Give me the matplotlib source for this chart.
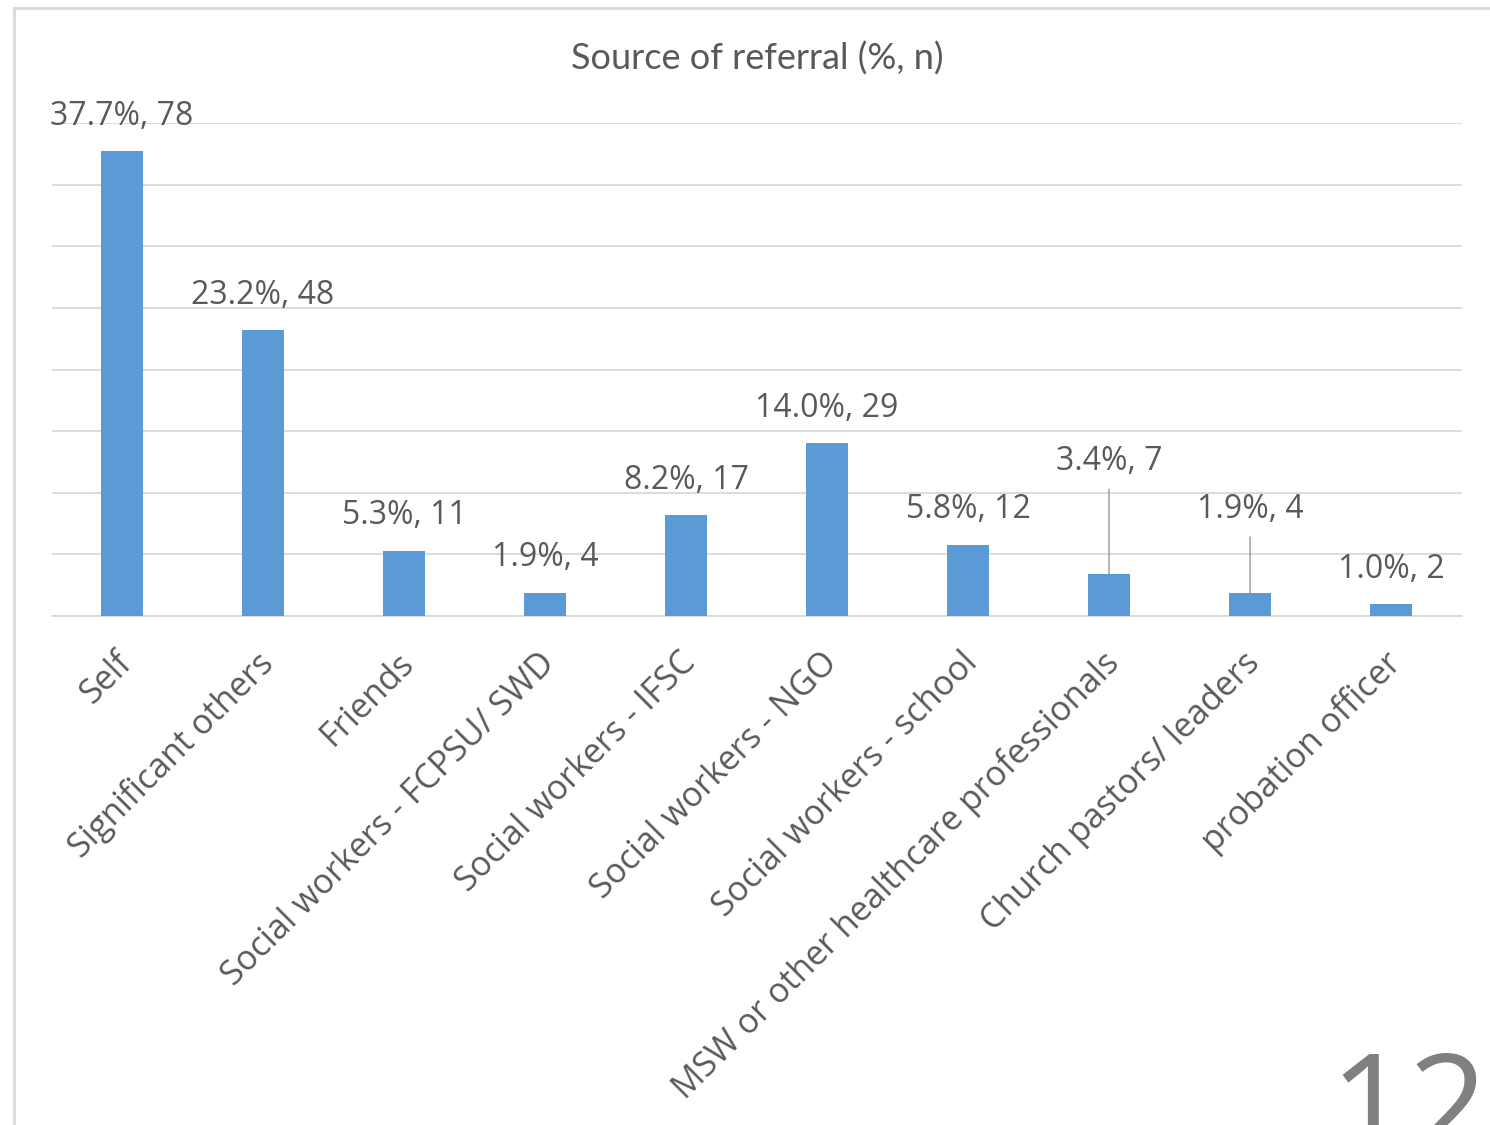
import matplotlib
matplotlib.use("Agg")
import matplotlib.pyplot as plt
from matplotlib.lines import Line2D
from matplotlib.transforms import ScaledTranslation

categories = [
    "Self",
    "Significant others",
    "Friends",
    "Social workers - FCPSU/ SWD",
    "Social workers - IFSC",
    "Social workers - NGO",
    "Social workers - school",
    "MSW or other healthcare professionals",
    "Church pastors/ leaders",
    "probation officer",
]
percents = [37.7, 23.2, 5.3, 1.9, 8.2, 14.0, 5.8, 3.4, 1.9, 1.0]
counts = [78, 48, 11, 4, 17, 29, 12, 7, 4, 2]

BAR = "#5B9BD5"
GRID = "#D9D9D9"
TEXT = "#595959"

fig = plt.figure(figsize=(14.9, 11.25), dpi=100)
ax = fig.add_axes([0.0346, 0.4524, 0.9463, 0.4383])

x = list(range(len(categories)))
ax.bar(x, percents, width=0.30, color=BAR, zorder=3)

ax.set_xlim(-0.5, len(categories) - 0.5)
ax.set_ylim(0, 40)
ax.set_yticks(range(0, 41, 5))
ax.yaxis.grid(True, color=GRID, lw=1.3)
ax.set_axisbelow(True)
ax.tick_params(axis="y", left=False, labelleft=False)
ax.tick_params(axis="x", bottom=False, pad=13)
for side in ("left", "right", "top"):
    ax.spines[side].set_visible(False)
ax.spines["bottom"].set_color(GRID)
ax.spines["bottom"].set_linewidth(1.3)

ax.set_xticks(x)
ax.set_xticklabels(categories, rotation=45, ha="right", rotation_mode="anchor",
                   fontsize=24.5, color=TEXT, family="Open Sans")
# nudge the slanted labels a little further along their own direction
shift = ScaledTranslation(-0.07, -0.07, fig.dpi_scale_trans)
for lbl in ax.get_xticklabels():
    lbl.set_transform(lbl.get_transform() + shift)

# value labels; two are lifted with a leader line back to their bars
label_offsets = {7: 81, 8: 60}
for i, (p, n) in enumerate(zip(percents, counts)):
    txt = f"{p:.1f}%, {n}"
    if i in label_offsets:
        ax.annotate(txt, xy=(i, p), xytext=(0, label_offsets[i]),
                    textcoords="offset points", ha="center", va="center",
                    fontsize=23, color=TEXT, family="Open Sans",
                    arrowprops=dict(arrowstyle="-", color="#7F7F7F", lw=0.8,
                                    shrinkA=6, shrinkB=0))
    else:
        ax.annotate(txt, xy=(i, p), xytext=(0, 25),
                    textcoords="offset points", ha="center", va="center",
                    fontsize=23, color=TEXT, family="Open Sans")

fig.text(0.508, 0.948, "Source of referral (%, n)", ha="center", va="center",
         fontsize=26, color=TEXT, family="Lato")

# chart frame edges
fig.add_artist(Line2D([14 / 1490, 14 / 1490], [0, 1 - 8 / 1125],
                      transform=fig.transFigure, color=GRID, lw=2))
fig.add_artist(Line2D([14 / 1490, 1], [1 - 8 / 1125, 1 - 8 / 1125],
                      transform=fig.transFigure, color=GRID, lw=2))

# slide number
fig.text(0.999, -0.055, "12", ha="right", va="bottom", fontsize=100,
         color="#808080", family="Open Sans")

fig.savefig("out.png", dpi=100, facecolor="white")
